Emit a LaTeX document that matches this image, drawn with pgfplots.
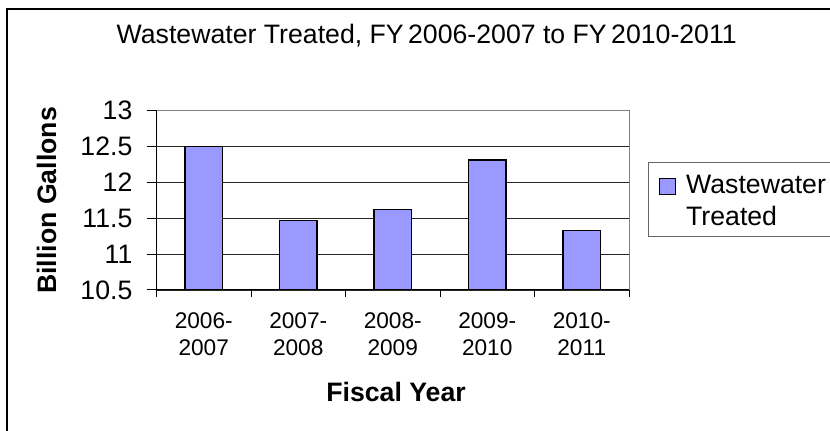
\documentclass[border=0pt]{standalone}
\usepackage{pgfplots}
\pgfplotsset{compat=1.18}
\usepackage{fontspec}
\setmainfont{Liberation Sans}
\definecolor{barblue}{HTML}{9999FF}
\begin{document}
\begin{tikzpicture}
\useasboundingbox (0,0) rectangle (622.5pt,323.25pt);
\draw[line width=1.5pt] (5pt,-5pt) -- (5pt,316.5pt) -- (630pt,316.5pt);
\begin{axis}[
  at={(117.375pt,105.75pt)}, anchor=south west,
  scale only axis, width=354.375pt, height=134.5pt,
  xmin=-0.5, xmax=4.5, ymin=10.5, ymax=13,
  ybar, bar width=28.3pt,
  axis x line*=bottom, axis y line*=left,
  axis line style={-, black, line width=0.75pt},
  tick align=outside, major tick length=7.5pt,
  tick style={black, line width=0.75pt},
  xtick={0,1,2,3,4},
  xticklabels={{2006-\\2007},{2007-\\2008},{2008-\\2009},{2009-\\2010},{2010-\\2011}},
  every major x tick/.style={draw=none},
  minor xtick={-0.5,0.5,1.5,2.5,3.5,4.5},
  minor tick length=5pt,
  x tick label style={align=center, font=\fontsize{17}{20}\selectfont, anchor=north, inner sep=0pt, yshift=-9.3pt},
  ytick={10.5,11,11.5,12,12.5},
  extra y ticks={13}, extra y tick style={grid=none},
  ymajorgrids, major grid style={black!85, line width=0.6pt},
  y tick label style={font=\fontsize{20}{24}\selectfont, anchor=east, inner sep=0pt, xshift=-10.4pt},
  /pgf/number format/assume math mode=true,
  every axis title shift=0pt,
  title={Wastewater Treated, FY\,2006-2007 to FY\,2010-2011},
  title style={at={(axis description cs:0.572,1.372)}, anchor=base, inner sep=0pt, font=\fontsize{20}{24}\selectfont},
  xlabel={Fiscal Year},
  xlabel style={at={(axis description cs:0.507,-0.622)}, anchor=base, inner sep=0pt, font=\fontsize{20}{24}\selectfont\bfseries},
  ylabel={Billion Gallons},
  ylabel style={at={(axis description cs:-0.2324,0.5)}, anchor=center, inner sep=0pt, font=\fontsize{20}{24}\selectfont\bfseries},
  legend style={at={(axis description cs:1.0402,0.7139)}, anchor=north west,
    draw=black!60, line width=0.75pt, inner xsep=7.5pt, inner ysep=1.5pt,
    font=\fontsize{20}{23.6}\selectfont,
    cells={anchor=base west},
    nodes={text depth=, inner ysep=0pt, inner xsep=8pt}},
  after end axis/.code={\draw[black!50, line width=0.75pt] (rel axis cs:0,1) -- (rel axis cs:1,1) -- (rel axis cs:1,0);},
]
\addplot[fill=barblue, draw=black, line width=1.1pt,
  legend image code/.code={\draw[fill=barblue, draw=black, line width=0.75pt] (0pt,-0.5pt) rectangle (12pt,11.5pt);}]
  coordinates {(0,12.5) (1,11.47) (2,11.62) (3,12.31) (4,11.33)};
\addlegendentry{\begin{tabular}[t]{@{}l@{}}\rule{0pt}{22.1pt}Wastewater\\Treated\end{tabular}}
\end{axis}
\end{tikzpicture}
\end{document}
